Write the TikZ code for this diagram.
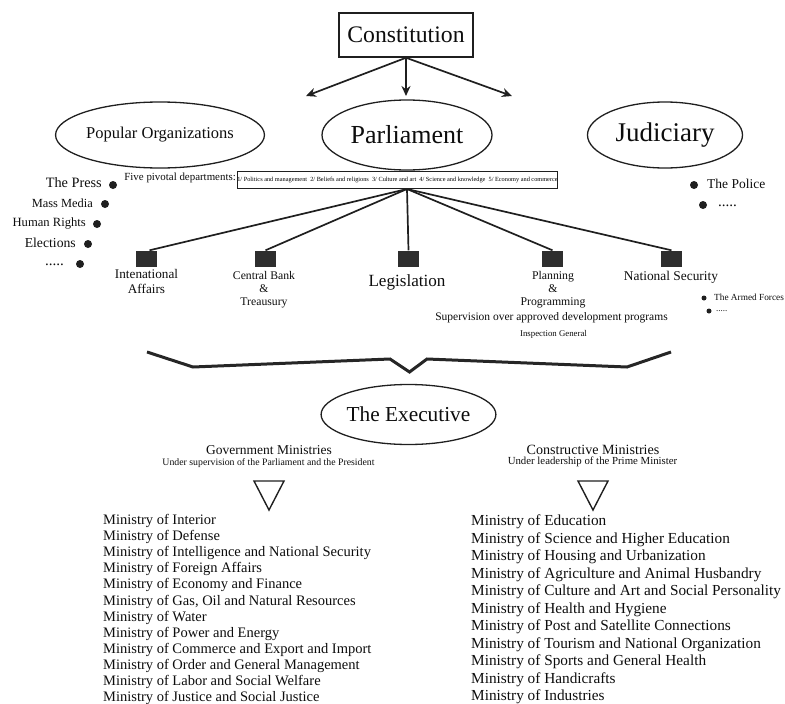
\documentclass[tikz,border=0pt]{standalone}
\usepackage{fontspec}
\setmainfont{Liberation Serif}
\usetikzlibrary{shapes.geometric,arrows.meta}
\newcommand{\myfs}[1]{\fontsize{#1}{#1}\selectfont}
\begin{document}
\begin{tikzpicture}[x=1pt,y=-1pt,
  lbl/.style={inner sep=0pt, text=black!95},
  dots/.style={inner sep=0pt, text=black!95, text height=2pt, text depth=0pt},
  oval/.style={ellipse, draw=black!88, line width=1.3pt, inner sep=0pt, text=black!95},
  sqbox/.style={fill=black!82, minimum width=21pt, minimum height=16pt, inner sep=0pt},
  bigdot/.style={circle, fill=black!88, inner sep=0pt, minimum size=8pt},
  smalldot/.style={circle, fill=black!88, inner sep=0pt, minimum size=5pt},
  link/.style={line width=1.7pt, draw=black!88},
  arr/.style={line width=1.7pt, draw=black!88, -{Stealth[length=10pt,width=9pt]}},
  tri/.style={draw=black!88, line width=1.4pt, line join=miter},
]
\useasboundingbox (0,0) rectangle (785,704);

% Constitution and arrows
\node[draw=black!88, line width=1.5pt, minimum width=134pt, minimum height=44pt, inner sep=0pt, font=\myfs{23.7}, text=black!95] (const) at (406,35) {Constitution};
\coordinate (aL) at (306,96);
\coordinate (aM) at (406,96);
\coordinate (aR) at (512,96);
\draw[arr] (const.south) -- (aL);
\draw[arr] (const.south) -- (aM);
\draw[arr] (const.south) -- (aR);

% Three ellipses
\node[oval, minimum width=165pt, minimum height=66pt, font=\myfs{16.5}] (pop) at (160,135) {Popular Organizations};
\node[oval, minimum width=170pt, minimum height=70pt, font=\myfs{26}] (parl) at (407,135) {Parliament};
\node[oval, minimum width=155pt, minimum height=66pt, font=\myfs{27}] (jud) at (665,135) {Judiciary};

% Five pivotal departments
\node[lbl, anchor=east, font=\myfs{10.9}] (fivelbl) at (236,178) {Five pivotal departments:};
\node[draw=black!88, line width=1.4pt, minimum width=315pt, minimum height=17pt, inner sep=0pt, font=\myfs{6.3}] (five) at (397.5,180)
  {1/ Politics and management\ \ 2/ Beliefs and religions\ \ 3/ Culture and art\ \ 4/ Science and knowledge\ \ 5/ Economy and commerce};
\coordinate (hub) at (407,189);

% Left bullets
\node[bigdot] (d1) at (113,185) {};
\node[bigdot] (d2) at (105,204) {};
\node[bigdot] (d3) at (97,224) {};
\node[bigdot] (d4) at (88,244) {};
\node[bigdot] (d5) at (80,264) {};
\node[lbl, anchor=east, font=\myfs{14.3}] (t1) at (102,183) {The Press};
\node[lbl, anchor=east, font=\myfs{12.4}] (t2) at (93,203) {Mass Media};
\node[lbl, anchor=east, font=\myfs{12.6}] (t3) at (86,223) {Human Rights};
\node[lbl, anchor=east, font=\myfs{13.7}] (t4) at (76,243) {Elections};
\node[dots, anchor=base east, font=\myfs{15}] (t5) at (64,265) {.....};

% Right bullets
\node[bigdot] (p1) at (694,185) {};
\node[bigdot] (p2) at (703,205) {};
\node[lbl, anchor=west, font=\myfs{13.5}] (pt1) at (707,184) {The Police};
\node[dots, anchor=base west, font=\myfs{15}] (pt2) at (718,206) {.....};

% Department squares
\node[sqbox] (s1) at (146.5,258.5) {};
\node[sqbox] (s2) at (265.5,258.5) {};
\node[sqbox] (s3) at (408.5,258.5) {};
\node[sqbox] (s4) at (552.5,258.5) {};
\node[sqbox] (s5) at (671.5,258.5) {};
\draw[link] (hub) -- ([xshift=3pt]s1.north);
\draw[link] (hub) -- (s2.north);
\draw[link] (hub) -- (s3.north);
\draw[link] (hub) -- (s4.north);
\draw[link] (hub) -- (s5.north);

\node[lbl, anchor=north, align=center, font=\fontsize{13.2}{15.5}\selectfont] (l1) at (146.5,269) {Intenational\\Affairs};
\node[lbl, anchor=north, align=center, font=\fontsize{11.7}{13}\selectfont] (l2) at (264,271) {Central Bank\\\&\\Treausury};
\node[lbl, font=\myfs{17.1}] (l3) at (407,282) {Legislation};
\node[lbl, anchor=north, align=center, font=\fontsize{11.8}{13}\selectfont] (l4) at (553,271) {Planning\\\&\\Programming};
\node[lbl, font=\myfs{13.4}] (l5) at (671,277) {National Security};
\node[lbl, fill=white, inner ysep=1pt, font=\myfs{11.5}] (sup) at (551.5,318) {Supervision over approved development programs};
\node[lbl, font=\myfs{8.8}] (insp) at (553.5,334) {Inspection General};

\node[smalldot] (f1) at (704,298) {};
\node[smalldot] (f2) at (709,311) {};
\node[lbl, anchor=west, font=\myfs{9.3}] (ft1) at (714,297) {The Armed Forces};
\node[dots, anchor=base west, font=\myfs{9}] (ft2) at (716,311) {.....};

% Brace
\coordinate (b1) at (147,352);
\coordinate (b2) at (193,367);
\coordinate (b3) at (390,359);
\coordinate (b4) at (409.5,372);
\coordinate (b5) at (427,359);
\coordinate (b6) at (627,367);
\coordinate (b7) at (671,352);
\draw[line width=3pt, draw=black!85, line join=miter] (b1) -- (b2) -- (b3) -- (b4) -- (b5) -- (b6) -- (b7);

% Executive
\node[oval, minimum width=167pt, minimum height=60pt, font=\myfs{21.3}] (exec) at (408.5,414.5) {The Executive};

\node[lbl, font=\myfs{13.5}] (gm) at (269,450) {Government Ministries};
\node[lbl, font=\myfs{9.8}] (gms) at (268.5,463) {Under supervision of the Parliament and the President};
\node[lbl, font=\myfs{14.1}] (cm) at (593,450) {Constructive Ministries};
\node[lbl, font=\myfs{10.8}] (cms) at (592.5,462) {Under leadership of the Prime Minister};

\draw[tri] (254,481) -- (284,481) -- (269,510) -- cycle;
\draw[tri] (578,481) -- (608,481) -- (593,510) -- cycle;

% Lists
\foreach \t [count=\i] in {Ministry of Interior, Ministry of Defense, Ministry of Intelligence and National Security, Ministry of Foreign Affairs, Ministry of Economy and Finance, {Ministry of Gas, Oil and Natural Resources}, Ministry of Water, Ministry of Power and Energy, Ministry of Commerce and Export and Import, Ministry of Order and General Management, Ministry of Labor and Social Welfare, Ministry of Justice and Social Justice}
  \node[lbl, anchor=base west, font=\myfs{14.5}] (g\i) at (103,{524.5+16.1*(\i-1)}) {\t};

\foreach \t [count=\i] in {Ministry of Education, Ministry of Science and Higher Education, Ministry of Housing and Urbanization, Ministry of Agriculture and Animal Husbandry, Ministry of Culture and Art and Social Personality, Ministry of Health and Hygiene, Ministry of Post and Satellite Connections, Ministry of Tourism and National Organization, Ministry of Sports and General Health, Ministry of Handicrafts, Ministry of Industries}
  \node[lbl, anchor=base west, font=\myfs{15.3}] (c\i) at (471,{525.5+17.5*(\i-1)}) {\t};
\end{tikzpicture}
\end{document}
